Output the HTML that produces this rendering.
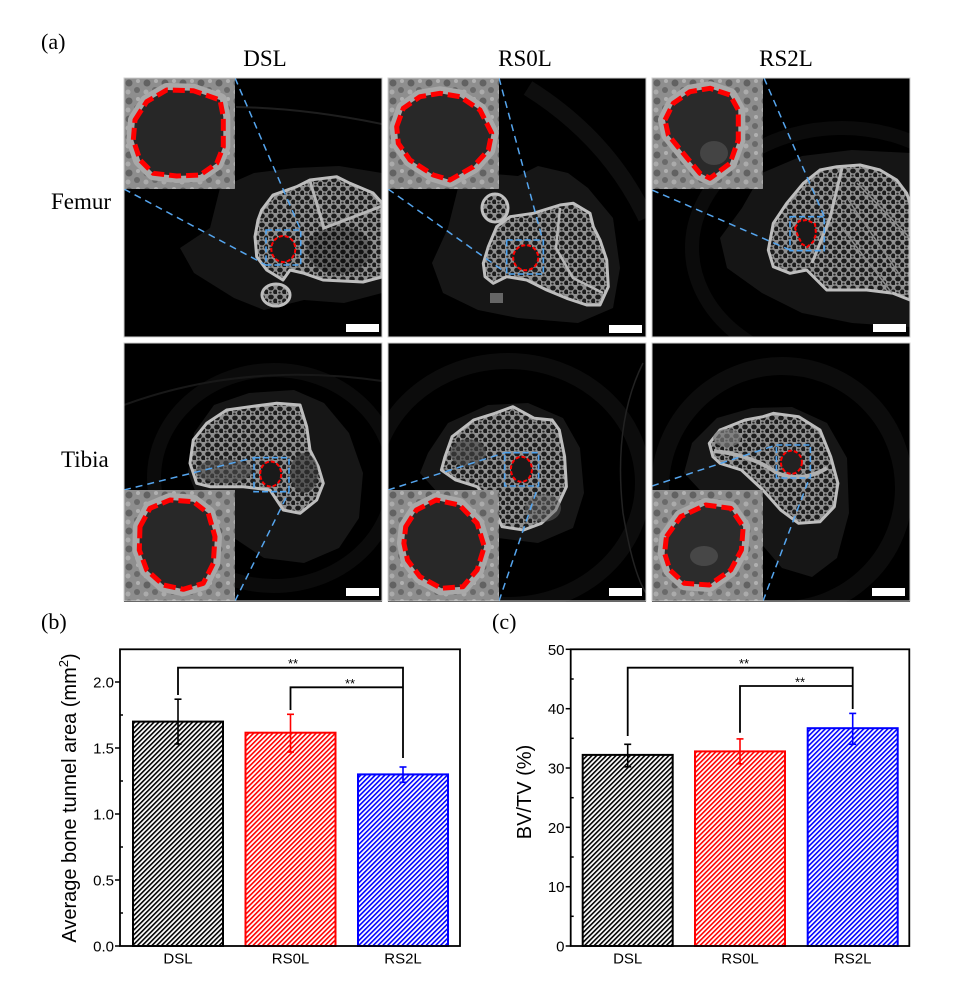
<!DOCTYPE html>
<html><head><meta charset="utf-8">
<style>
html,body{margin:0;padding:0;background:#fff;}
svg{display:block;}
.serif{font-family:"Liberation Serif","Times New Roman",serif;fill:#000;}
.sans{font-family:"Liberation Sans",Arial,sans-serif;fill:#000;}
</style></head>
<body>
<svg width="953" height="997" viewBox="0 0 953 997" xmlns="http://www.w3.org/2000/svg">
<defs>
  <pattern id="trab" width="9" height="9" patternUnits="userSpaceOnUse">
    <rect width="9" height="9" fill="#909090"/>
    <ellipse cx="3" cy="3" rx="2.8" ry="2.4" fill="#1c1c1c"/>
    <ellipse cx="7.3" cy="7" rx="2.2" ry="2.5" fill="#1c1c1c"/>
    <ellipse cx="2.5" cy="7.6" rx="1.2" ry="1" fill="#262626"/>
  </pattern>
  <pattern id="ins" width="18" height="18" patternUnits="userSpaceOnUse">
    <rect width="18" height="18" fill="#8e8e8e"/>
    <circle cx="5" cy="5" r="3.5" fill="#626262"/>
    <circle cx="13" cy="12" r="3" fill="#6a6a6a"/>
    <circle cx="14" cy="3" r="2" fill="#b0b0b0"/>
    <circle cx="4" cy="14" r="2.5" fill="#ababab"/>
  </pattern>
  <pattern id="hk" width="3.4" height="3.4" patternUnits="userSpaceOnUse" patternTransform="rotate(45)">
    <rect width="3.4" height="3.4" fill="#fff"/><rect width="1.6" height="3.4" fill="#000"/>
  </pattern>
  <pattern id="hr" width="3.4" height="3.4" patternUnits="userSpaceOnUse" patternTransform="rotate(45)">
    <rect width="3.4" height="3.4" fill="#fff"/><rect width="1.6" height="3.4" fill="#ff0000"/>
  </pattern>
  <pattern id="hbl" width="3.4" height="3.4" patternUnits="userSpaceOnUse" patternTransform="rotate(45)">
    <rect width="3.4" height="3.4" fill="#fff"/><rect width="1.6" height="3.4" fill="#0000ff"/>
  </pattern>
  <clipPath id="pc"><rect x="0" y="0" width="258" height="259"/></clipPath>
</defs>

<rect width="953" height="997" fill="#fff"/>

<!-- Labels panel (a) -->
<text class="serif" x="41" y="49" font-size="22">(a)</text>
<text class="serif" x="265" y="66" font-size="23" text-anchor="middle">DSL</text>
<text class="serif" x="525" y="66" font-size="23" text-anchor="middle">RS0L</text>
<text class="serif" x="786" y="66" font-size="23" text-anchor="middle">RS2L</text>
<text class="serif" x="51" y="209" font-size="23">Femur</text>
<text class="serif" x="61" y="467" font-size="23">Tibia</text>

<!-- ============ P1 DSL femur ============ -->
<g transform="translate(124,78)"><g clip-path="url(#pc)">
  <rect width="258" height="259" fill="#000"/>
  <path d="M112 29 Q180 30 258 46" fill="none" stroke="#1e1e1e" stroke-width="2"/>
  <polygon points="86,150 96,110 130,95 170,90 215,88 258,95 258,215 220,225 180,222 140,232 110,220 70,195 56,170" fill="#151515"/>
  <polygon points="137.7,132 149,117 172.7,108.7 186,102 212.7,98.7 226,105.3 249,115 258,125 258,199 239,204 199,202 179,195 166,192 159,202 142.7,192 132.7,178.7 131,158.7 134,142" fill="url(#trab)" stroke="#bdbdbd" stroke-width="3" stroke-linejoin="round"/>
  <ellipse cx="215" cy="172" rx="32" ry="24" fill="#000" opacity="0.3"/>
  <path d="M186 103 L200 150 L258 128" fill="none" stroke="#b5b5b5" stroke-width="3"/>
  <ellipse cx="152" cy="217" rx="14" ry="11" fill="url(#trab)" stroke="#bdbdbd" stroke-width="3"/>
  <rect x="142" y="152" width="34.7" height="35" fill="none" stroke="#4ea3f0" stroke-width="1.6" stroke-dasharray="6 3"/>
  <ellipse cx="159.3" cy="171" rx="12" ry="13" fill="#1a1a1a" stroke="#ff0000" stroke-width="2" stroke-dasharray="4 2"/>
  <line x1="111" y1="0" x2="176.7" y2="152" stroke="#55a5ee" stroke-width="1.5" stroke-dasharray="7 5"/>
  <line x1="0" y1="111" x2="142" y2="187" stroke="#55a5ee" stroke-width="1.5" stroke-dasharray="7 5"/>
  <g>
    <rect x="0" y="0" width="111" height="111" fill="url(#ins)"/>
    <polygon points="11,42 22.7,23.7 42.7,12 69.3,12.7 96,22 99.3,38.7 99.3,68.7 92.7,85.3 76,97 52.7,98 29.3,95.3 16,82 9.3,62" fill="#262626" stroke="#a8a8a8" stroke-width="14" stroke-linejoin="round"/>
    <polygon points="11,42 22.7,23.7 42.7,12 69.3,12.7 96,22 99.3,38.7 99.3,68.7 92.7,85.3 76,97 52.7,98 29.3,95.3 16,82 9.3,62" fill="#272727" stroke="#ff0000" stroke-width="5" stroke-dasharray="12 5" stroke-linejoin="round"/>
  </g>
  <rect x="222" y="246" width="33" height="8" fill="#fff"/>
</g><rect x="0" y="0" width="258" height="259" fill="none" stroke="#cfcfcf" stroke-width="1"/></g>

<!-- ============ P2 RS0L femur ============ -->
<g transform="translate(388,78)"><g clip-path="url(#pc)">
  <rect width="258" height="259" fill="#000"/>
  <path d="M140 10 Q220 60 258 140" fill="none" stroke="#0e0e0e" stroke-width="16"/>
  <polygon points="60,150 70,110 95,95 130,98 150,88 180,95 200,110 225,140 232,190 225,230 190,245 130,240 90,232 55,215 44,185" fill="#161616"/>
  <polygon points="95.3,185.3 100.3,168.7 108.7,148.7 122,138.7 145.3,135.3 172,127 185.3,125.3 202,135.3 205.3,148.7 212,162 218.7,182 220.3,208.7 212,227 198.7,227 178.7,220.3 158.7,212 138.7,202 118.7,198.7 105.3,205.3 97,198.7" fill="url(#trab)" stroke="#bdbdbd" stroke-width="3" stroke-linejoin="round"/>
  <path d="M172 130 L168 170 L185 200 L215 215" fill="none" stroke="#b5b5b5" stroke-width="2.5"/>
  <ellipse cx="107" cy="130" rx="13" ry="14" fill="url(#trab)" stroke="#c0c0c0" stroke-width="3"/>
  <rect x="102" y="215" width="13" height="10" fill="#666"/>
  <rect x="118.7" y="162" width="36.6" height="34" fill="none" stroke="#4ea3f0" stroke-width="1.6" stroke-dasharray="6 3"/>
  <ellipse cx="137.7" cy="179.7" rx="12.5" ry="12.5" fill="#1a1a1a" stroke="#ff0000" stroke-width="2" stroke-dasharray="4 2"/>
  <line x1="111" y1="0" x2="154.7" y2="162" stroke="#55a5ee" stroke-width="1.5" stroke-dasharray="7 5"/>
  <line x1="0" y1="111" x2="117" y2="194" stroke="#55a5ee" stroke-width="1.5" stroke-dasharray="7 5"/>
  <g>
    <rect x="0" y="0" width="111" height="111" fill="url(#ins)"/>
    <polygon points="8.7,48.7 15.3,30.3 32,18.7 52,15.3 72,18.7 92,32 103.7,55.3 100.3,72 85.3,88.7 62,102 45.3,97 22,82 10.3,65.3" fill="#262626" stroke="#a8a8a8" stroke-width="14" stroke-linejoin="round"/>
    <polygon points="8.7,48.7 15.3,30.3 32,18.7 52,15.3 72,18.7 92,32 103.7,55.3 100.3,72 85.3,88.7 62,102 45.3,97 22,82 10.3,65.3" fill="#282828" stroke="#ff0000" stroke-width="5" stroke-dasharray="12 5" stroke-linejoin="round"/>
  </g>
  <rect x="221" y="247" width="33" height="8" fill="#fff"/>
</g><rect x="0" y="0" width="258" height="259" fill="none" stroke="#cfcfcf" stroke-width="1"/></g>

<!-- ============ P3 RS2L femur ============ -->
<g transform="translate(652,78)"><g clip-path="url(#pc)">
  <rect width="258" height="259" fill="#000"/>
  <ellipse cx="190" cy="170" rx="150" ry="120" fill="none" stroke="#0b0b0b" stroke-width="14"/>
  <polygon points="90,130 110,95 150,78 200,72 258,75 258,249 200,245 150,235 110,215 75,190 68,160" fill="#151515"/>
  <polygon points="116.3,172 121.3,145.3 134.7,125.3 151.3,105.3 168,92 184.7,88.7 208,87 228,92 244.7,102 254.7,115.3 258,125 258,222 241.3,215.3 214.7,212 174.7,212 164.7,202 154.7,192 138,195.3 121.3,188.7" fill="url(#trab)" stroke="#bdbdbd" stroke-width="3" stroke-linejoin="round"/>
  <path d="M190 90 L178 140 L160 185" fill="none" stroke="#b8b8b8" stroke-width="3"/>
  <path d="M195 120 L250 200 M205 105 L258 160 M190 150 L240 215" fill="none" stroke="#8a8a8a" stroke-width="1.5"/>
  <rect x="138" y="138.7" width="34.3" height="34" fill="none" stroke="#4ea3f0" stroke-width="1.6" stroke-dasharray="6 3"/>
  <polygon points="143,150 147,143 155,142 163,146 164,156 161,164 155,169 150,166 146,158" fill="#1a1a1a" stroke="#ff0000" stroke-width="2" stroke-dasharray="4 2" stroke-linejoin="round"/>
  <line x1="112" y1="0" x2="172.3" y2="138.7" stroke="#55a5ee" stroke-width="1.5" stroke-dasharray="7 5"/>
  <line x1="0" y1="112" x2="138" y2="172" stroke="#55a5ee" stroke-width="1.5" stroke-dasharray="7 5"/>
  <g>
    <rect x="0" y="0" width="111" height="111" fill="url(#ins)"/>
    <polygon points="13,42 21.3,25.3 38,13.7 58,10.3 78,17 86.3,32 86.3,62 78,85.3 58,100.3 48,95.3 31.3,75.3 16.3,57" fill="#262626" stroke="#a8a8a8" stroke-width="14" stroke-linejoin="round"/>
    <polygon points="13,42 21.3,25.3 38,13.7 58,10.3 78,17 86.3,32 86.3,62 78,85.3 58,100.3 48,95.3 31.3,75.3 16.3,57" fill="#2a2a2a" stroke="none"/>
    <ellipse cx="62" cy="75" rx="14" ry="12" fill="#444"/>
    <polygon points="13,42 21.3,25.3 38,13.7 58,10.3 78,17 86.3,32 86.3,62 78,85.3 58,100.3 48,95.3 31.3,75.3 16.3,57" fill="none" stroke="#ff0000" stroke-width="5" stroke-dasharray="12 5" stroke-linejoin="round"/>
  </g>
  <rect x="221" y="246" width="33" height="8" fill="#fff"/>
</g><rect x="0" y="0" width="258" height="259" fill="none" stroke="#cfcfcf" stroke-width="1"/></g>

<!-- ============ P4 DSL tibia ============ -->
<g transform="translate(124,343)"><g clip-path="url(#pc)">
  <rect width="258" height="259" fill="#000"/>
  <ellipse cx="150" cy="135" rx="120" ry="108" fill="none" stroke="#0b0b0b" stroke-width="14"/>
  <path d="M0 62 Q120 18 258 38" fill="none" stroke="#181818" stroke-width="2"/>
  <polygon points="70,90 90,62 125,50 170,47 200,60 225,90 239,130 235,175 215,205 180,220 140,215 110,195 80,170 64,130" fill="#161616"/>
  <polygon points="66,120.3 69.3,97 82.7,80.3 102.7,67 126,63.7 152.7,60.3 176,62 182.7,83.7 186,107 194.3,123.7 199.3,140.3 192.7,157 176,170.3 159.3,167 146,147 119.3,143.7 86,143.7 72.7,140.3" fill="url(#trab)" stroke="#bdbdbd" stroke-width="3" stroke-linejoin="round"/>
  <ellipse cx="100" cy="128" rx="28" ry="12" fill="#4e4e4e" opacity="0.6"/>
  <ellipse cx="180" cy="130" rx="14" ry="20" fill="#333" opacity="0.6"/>
  <rect x="130" y="114.7" width="35" height="34" fill="none" stroke="#4ea3f0" stroke-width="1.6" stroke-dasharray="6 3"/>
  <ellipse cx="146.7" cy="131" rx="10.5" ry="12.5" fill="#1a1a1a" stroke="#ff0000" stroke-width="2" stroke-dasharray="4 2"/>
  <line x1="0" y1="147" x2="130" y2="114.7" stroke="#55a5ee" stroke-width="1.5" stroke-dasharray="7 5"/>
  <line x1="111" y1="258" x2="165" y2="148.7" stroke="#55a5ee" stroke-width="1.5" stroke-dasharray="7 5"/>
  <g transform="translate(0,147)">
    <rect x="0" y="0" width="111" height="111" fill="url(#ins)"/>
    <polygon points="16,36.7 26,18.3 46,10 69.3,11.7 84.3,23.3 91,46.7 89.3,73.3 79.3,93.3 59.3,99.3 39.3,95 22.7,80 15.3,60" fill="#262626" stroke="#a8a8a8" stroke-width="14" stroke-linejoin="round"/>
    <polygon points="16,36.7 26,18.3 46,10 69.3,11.7 84.3,23.3 91,46.7 89.3,73.3 79.3,93.3 59.3,99.3 39.3,95 22.7,80 15.3,60" fill="#282828" stroke="#ff0000" stroke-width="5" stroke-dasharray="12 5" stroke-linejoin="round"/>
  </g>
  <rect x="222" y="245" width="33" height="8" fill="#fff"/>
</g><rect x="0" y="0" width="258" height="258" fill="none" stroke="#cfcfcf" stroke-width="1"/></g>

<!-- ============ P5 RS0L tibia ============ -->
<g transform="translate(388,343)"><g clip-path="url(#pc)">
  <rect width="258" height="259" fill="#000"/>
  <ellipse cx="120" cy="140" rx="135" ry="122" fill="none" stroke="#0c0c0c" stroke-width="16"/>
  <path d="M255 20 Q225 80 235 170 Q245 230 258 250" fill="none" stroke="#222" stroke-width="1.5"/>
  <polygon points="40,110 60,80 100,62 140,60 175,75 192,105 196,150 185,185 150,200 110,195 80,170 50,150 32,130" fill="#161616"/>
  <polygon points="57,113.7 64.1,93.7 85.6,77 107,70.3 124.9,63.7 146.3,75.3 164.1,77 171.3,87 176.6,113.7 178.4,143.7 167.7,167 153.4,180.3 135.6,187 114.1,183.7 103.4,160.3 89,143.7 67.7,137 53.4,127" fill="url(#trab)" stroke="#bdbdbd" stroke-width="3" stroke-linejoin="round"/>
  <ellipse cx="80" cy="110" rx="18" ry="14" fill="#444" opacity="0.6"/>
  <ellipse cx="155" cy="165" rx="18" ry="14" fill="#666" opacity="0.5"/>
  <rect x="116.6" y="109.7" width="34" height="33.3" fill="none" stroke="#4ea3f0" stroke-width="1.6" stroke-dasharray="6 3"/>
  <ellipse cx="133.4" cy="126.3" rx="10.5" ry="12.5" fill="#1a1a1a" stroke="#ff0000" stroke-width="2" stroke-dasharray="4 2"/>
  <line x1="0" y1="147" x2="117" y2="109.7" stroke="#55a5ee" stroke-width="1.5" stroke-dasharray="7 5"/>
  <line x1="111" y1="258" x2="150" y2="143.7" stroke="#55a5ee" stroke-width="1.5" stroke-dasharray="7 5"/>
  <g transform="translate(0,147)">
    <rect x="0" y="0" width="111" height="111" fill="url(#ins)"/>
    <polygon points="17.7,36.7 28.4,20 48.1,10 71.3,15 89.1,33.3 96.3,56.7 89.1,80 74.9,96.7 53.4,98.3 32,86.7 19.5,70 15.9,53.3" fill="#262626" stroke="#a8a8a8" stroke-width="14" stroke-linejoin="round"/>
    <polygon points="17.7,36.7 28.4,20 48.1,10 71.3,15 89.1,33.3 96.3,56.7 89.1,80 74.9,96.7 53.4,98.3 32,86.7 19.5,70 15.9,53.3" fill="#282828" stroke="#ff0000" stroke-width="5" stroke-dasharray="12 5" stroke-linejoin="round"/>
  </g>
  <rect x="221" y="245" width="33" height="8" fill="#fff"/>
</g><rect x="0" y="0" width="258" height="258" fill="none" stroke="#cfcfcf" stroke-width="1"/></g>

<!-- ============ P6 RS2L tibia ============ -->
<g transform="translate(652,343)"><g clip-path="url(#pc)">
  <rect width="258" height="259" fill="#000"/>
  <ellipse cx="130" cy="145" rx="122" ry="122" fill="none" stroke="#0c0c0c" stroke-width="18"/>
  <polygon points="40,100 65,75 100,65 140,64 175,80 195,115 197,170 185,215 160,234 130,225 100,190 60,160 32,130" fill="#161616"/>
  <polygon points="57.3,100.3 68,87 93,77 110.9,73.7 121.6,70.3 146.6,73.7 168,87 178.7,113.7 185.9,140.3 182.3,163.7 168,178.7 146.6,180.3 128.7,167 110.9,147 89.4,127 68,120.3 60.9,113.7" fill="url(#trab)" stroke="#bdbdbd" stroke-width="3" stroke-linejoin="round"/>
  <path d="M62 108 Q100 112 125 130 Q150 140 175 125" fill="none" stroke="#b0b0b0" stroke-width="4"/>
  <ellipse cx="75" cy="95" rx="14" ry="9" fill="#7a7a7a" opacity="0.7"/>
  <rect x="124.4" y="102" width="34" height="33" fill="none" stroke="#4ea3f0" stroke-width="1.6" stroke-dasharray="6 3"/>
  <ellipse cx="139.4" cy="119.3" rx="10.5" ry="11.5" fill="#222" stroke="#ff0000" stroke-width="2" stroke-dasharray="4 2"/>
  <line x1="0" y1="143" x2="124.4" y2="102" stroke="#55a5ee" stroke-width="1.5" stroke-dasharray="7 5"/>
  <line x1="111" y1="258" x2="157.3" y2="135.3" stroke="#55a5ee" stroke-width="1.5" stroke-dasharray="7 5"/>
  <g transform="translate(0,147)">
    <rect x="0" y="0" width="111" height="111" fill="url(#ins)"/>
    <polygon points="14.4,46.7 28.7,26.7 53.7,15 78.7,18.3 91.2,36.7 89.4,60 78.7,80 57.3,95 32.3,93.3 18,80 12.6,63.3" fill="#262626" stroke="#a8a8a8" stroke-width="14" stroke-linejoin="round"/>
    <polygon points="14.4,46.7 28.7,26.7 53.7,15 78.7,18.3 91.2,36.7 89.4,60 78.7,80 57.3,95 32.3,93.3 18,80 12.6,63.3" fill="#2c2c2c" stroke="none"/>
    <ellipse cx="52" cy="66" rx="14" ry="10" fill="#474747"/>
    <polygon points="14.4,46.7 28.7,26.7 53.7,15 78.7,18.3 91.2,36.7 89.4,60 78.7,80 57.3,95 32.3,93.3 18,80 12.6,63.3" fill="none" stroke="#ff0000" stroke-width="5" stroke-dasharray="12 5" stroke-linejoin="round"/>
  </g>
  <rect x="220" y="245" width="33" height="8" fill="#fff"/>
</g><rect x="0" y="0" width="258" height="258" fill="none" stroke="#cfcfcf" stroke-width="1"/></g>

<!-- ============ Chart (b) ============ -->
<text class="serif" x="41" y="629" font-size="22">(b)</text>
<g>
  <rect x="133" y="721.6" width="90" height="224.4" fill="url(#hk)" stroke="#000" stroke-width="2"/>
  <rect x="245.5" y="732.7" width="90" height="213.3" fill="url(#hr)" stroke="#ff0000" stroke-width="2"/>
  <rect x="358" y="774.4" width="90" height="171.6" fill="url(#hbl)" stroke="#0000ff" stroke-width="2"/>
  <g stroke="#000" stroke-width="1.6"><line x1="178" y1="744" x2="178" y2="699.2"/><line x1="174.5" y1="699.2" x2="181.5" y2="699.2"/><line x1="174.5" y1="744" x2="181.5" y2="744"/></g>
  <g stroke="#ff0000" stroke-width="1.6"><line x1="290.5" y1="752" x2="290.5" y2="714.3"/><line x1="287" y1="714.3" x2="294" y2="714.3"/><line x1="287" y1="752" x2="294" y2="752"/></g>
  <g stroke="#0000ff" stroke-width="1.6"><line x1="403" y1="782.3" x2="403" y2="767"/><line x1="399.5" y1="767" x2="406.5" y2="767"/><line x1="399.5" y1="782.3" x2="406.5" y2="782.3"/></g>
  <polyline points="178,695 178,667.7 403,667.7 403,758" fill="none" stroke="#000" stroke-width="1.8"/>
  <polyline points="290.5,710 290.5,687.3 403,687.3" fill="none" stroke="#000" stroke-width="1.8"/>
  <text class="sans" x="293" y="668" font-size="13" text-anchor="middle">**</text>
  <text class="sans" x="350" y="688" font-size="13" text-anchor="middle">**</text>
  <rect x="120" y="649.3" width="340" height="296.7" fill="none" stroke="#000" stroke-width="1.8"/>
  <g stroke="#000" stroke-width="1.5">
    <line x1="115" y1="946" x2="120" y2="946"/><line x1="115" y1="880" x2="120" y2="880"/>
    <line x1="115" y1="814" x2="120" y2="814"/><line x1="115" y1="748" x2="120" y2="748"/>
    <line x1="115" y1="682" x2="120" y2="682"/>
    <line x1="120" y1="913" x2="123" y2="913"/><line x1="120" y1="847" x2="123" y2="847"/>
    <line x1="120" y1="781" x2="123" y2="781"/><line x1="120" y1="715" x2="123" y2="715"/>
  </g>
  <g class="sans" font-size="15" text-anchor="end">
    <text x="114" y="951.5">0.0</text><text x="114" y="885.5">0.5</text>
    <text x="114" y="819.5">1.0</text><text x="114" y="753.5">1.5</text>
    <text x="114" y="687.5">2.0</text>
  </g>
  <g class="sans" font-size="15" text-anchor="middle">
    <text x="178" y="963.5">DSL</text><text x="290.5" y="963.5">RS0L</text><text x="403" y="963.5">RS2L</text>
  </g>
  <text class="sans" font-size="20" text-anchor="middle" transform="translate(76,798) rotate(-90)">Average bone tunnel area (mm<tspan font-size="13" dy="-8">2</tspan><tspan dy="8">)</tspan></text>
</g>

<!-- ============ Chart (c) ============ -->
<text class="serif" x="492" y="629" font-size="22">(c)</text>
<g>
  <rect x="582.7" y="754.9" width="90" height="191.1" fill="url(#hk)" stroke="#000" stroke-width="2"/>
  <rect x="695" y="751.4" width="90" height="194.6" fill="url(#hr)" stroke="#ff0000" stroke-width="2"/>
  <rect x="807.7" y="728.2" width="90" height="217.8" fill="url(#hbl)" stroke="#0000ff" stroke-width="2"/>
  <g stroke="#000" stroke-width="1.6"><line x1="627.7" y1="766.8" x2="627.7" y2="744.3"/><line x1="624.2" y1="744.3" x2="631.2" y2="744.3"/><line x1="624.2" y1="766.8" x2="631.2" y2="766.8"/></g>
  <g stroke="#ff0000" stroke-width="1.6"><line x1="740" y1="763.8" x2="740" y2="738.9"/><line x1="736.5" y1="738.9" x2="743.5" y2="738.9"/><line x1="736.5" y1="763.8" x2="743.5" y2="763.8"/></g>
  <g stroke="#0000ff" stroke-width="1.6"><line x1="852.7" y1="744.3" x2="852.7" y2="713.4"/><line x1="849.2" y1="713.4" x2="856.2" y2="713.4"/><line x1="849.2" y1="744.3" x2="856.2" y2="744.3"/></g>
  <polyline points="627.7,736 627.7,667.7 852.7,667.7 852.7,709" fill="none" stroke="#000" stroke-width="1.8"/>
  <polyline points="740,732.7 740,686 852.7,686" fill="none" stroke="#000" stroke-width="1.8"/>
  <text class="sans" x="744" y="668" font-size="13" text-anchor="middle">**</text>
  <text class="sans" x="800" y="686.5" font-size="13" text-anchor="middle">**</text>
  <rect x="570.7" y="649.3" width="338.6" height="296.7" fill="none" stroke="#000" stroke-width="1.8"/>
  <g stroke="#000" stroke-width="1.5">
    <line x1="565.7" y1="946" x2="570.7" y2="946"/><line x1="565.7" y1="886.7" x2="570.7" y2="886.7"/>
    <line x1="565.7" y1="827.3" x2="570.7" y2="827.3"/><line x1="565.7" y1="768" x2="570.7" y2="768"/>
    <line x1="565.7" y1="708.7" x2="570.7" y2="708.7"/><line x1="565.7" y1="649.3" x2="570.7" y2="649.3"/>
    <line x1="570.7" y1="916.3" x2="573.7" y2="916.3"/><line x1="570.7" y1="857" x2="573.7" y2="857"/>
    <line x1="570.7" y1="797.7" x2="573.7" y2="797.7"/><line x1="570.7" y1="738.3" x2="573.7" y2="738.3"/>
    <line x1="570.7" y1="679" x2="573.7" y2="679"/>
  </g>
  <g class="sans" font-size="15" text-anchor="end">
    <text x="564.5" y="951.5">0</text><text x="564.5" y="892.2">10</text>
    <text x="564.5" y="832.8">20</text><text x="564.5" y="773.5">30</text>
    <text x="564.5" y="714.2">40</text><text x="564.5" y="654.8">50</text>
  </g>
  <g class="sans" font-size="15" text-anchor="middle">
    <text x="627.7" y="963.5">DSL</text><text x="740" y="963.5">RS0L</text><text x="852.7" y="963.5">RS2L</text>
  </g>
  <text class="sans" font-size="20" text-anchor="middle" transform="translate(531,792) rotate(-90)">BV/TV (%)</text>
</g>
</svg>
</body></html>
